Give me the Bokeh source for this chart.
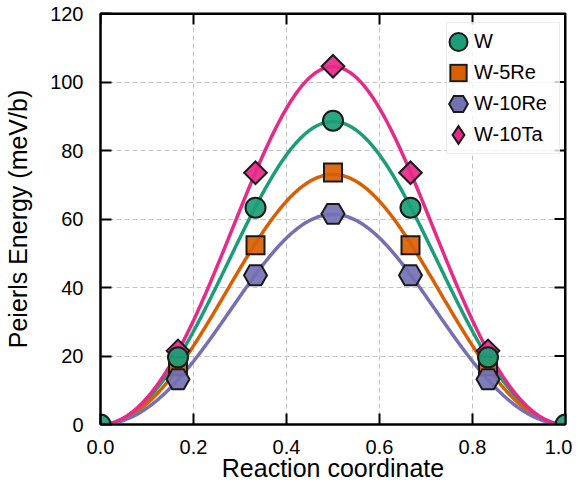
import numpy as np
from bokeh.plotting import figure
from bokeh.models import (Range1d, FixedTicker, PrintfTickFormatter, Legend, LegendItem)
from bokeh.embed import file_html
from bokeh.resources import INLINE

# ---- data ----
x_pts = [0.0, 1 / 6, 1 / 3, 0.5, 2 / 3, 5 / 6, 1.0]
e_w = [0.0, 19.6, 63.3, 88.7, 63.3, 19.6, 0.0]
e_w5re = [0.0, 17.0, 52.3, 73.6, 52.3, 17.0, 0.0]
e_w10re = [0.0, 13.2, 43.6, 61.5, 43.6, 13.2, 0.0]
e_w10ta = [0.0, 21.5, 73.5, 104.6, 73.5, 21.5, 0.0]
names = ["W", "W-5Re", "W-10Re", "W-10Ta"]
colors = ["#1b9e77", "#d95f02", "#7570b3", "#e7298a"]
x_ticks = [0.0, 0.2, 0.4, 0.6, 0.8, 1.0]
y_ticks = [0, 20, 40, 60, 80, 100, 120]
x_title = "Reaction coordinate"
y_title = "Peierls Energy (meV/b)"

FONT = "Liberation Sans"
W, H = 572, 488
BL, BR, BT, BB = 100, 7, 13, 64
FW, FH = W - BL - BR, H - BT - BB
X0, X1, Y0, Y1 = 0.0, 1.0, 0.0, 120.0

p = figure(width=W, height=H, x_range=Range1d(X0, X1), y_range=Range1d(Y0, Y1),
           output_backend="svg", toolbar_location=None,
           min_border_left=BL, min_border_right=BR, min_border_top=BT, min_border_bottom=BB,
           x_axis_label=x_title, y_axis_label=y_title)
p.outline_line_color = "black"
p.outline_line_width = 2
p.background_fill_color = "white"

for ax, ticks in ((p.xaxis[0], x_ticks), (p.yaxis[0], y_ticks)):
    ax.ticker = FixedTicker(ticks=ticks)
    ax.axis_line_width = 2
    ax.axis_line_color = "black"
    ax.major_tick_line_width = 2
    ax.major_tick_line_color = "black"
    ax.major_tick_in = 11
    ax.major_tick_out = 0
    ax.minor_tick_line_color = None
    ax.major_label_text_font = FONT
    ax.major_label_text_font_size = "20px"
    ax.major_label_text_color = "black"
    ax.axis_label_text_font = FONT
    ax.axis_label_text_font_size = "25px"
    ax.axis_label_text_font_style = "normal"
    ax.axis_label_text_color = "black"
p.xaxis[0].formatter = PrintfTickFormatter(format="%.1f")
p.xaxis[0].major_label_standoff = 15
p.xaxis[0].axis_label_standoff = -3
p.yaxis[0].major_label_standoff = 17
p.yaxis[0].axis_label_standoff = 15

# grid
p.xgrid.ticker = FixedTicker(ticks=x_ticks)
p.ygrid.ticker = FixedTicker(ticks=y_ticks)
for g in (p.xgrid[0], p.ygrid[0]):
    g.grid_line_color = "#c4c4c4"
    g.grid_line_dash = "5 3"
    g.grid_line_width = 1

# top / right frame edges with inward mirrored ticks
tick_len = 11
dx = tick_len * (X1 - X0) / FW
dy = tick_len * (Y1 - Y0) / FH
p.segment(x0=[X0, X1], y0=[Y1, Y0], x1=[X1, X1], y1=[Y1, Y1], line_color="black",
          line_width=3)
p.segment(x0=x_ticks, y0=[Y1] * len(x_ticks), x1=x_ticks, y1=[Y1 - dy] * len(x_ticks),
          line_color="black", line_width=2)
p.segment(x0=[X1] * len(y_ticks), y0=y_ticks, x1=[X1 - dx] * len(y_ticks), y1=y_ticks,
          line_color="black", line_width=2)

# smooth fitted curves
xs = np.array(x_pts)
basis = np.column_stack([np.sin(np.pi * xs) ** 2, np.sin(2 * np.pi * xs) ** 2])
xf = np.linspace(0, 1, 400)
basis_f = np.column_stack([np.sin(np.pi * xf) ** 2, np.sin(2 * np.pi * xf) ** 2])
series = [e_w, e_w5re, e_w10re, e_w10ta]
for ys, c in zip(series, colors):
    coef, *_ = np.linalg.lstsq(basis, np.array(ys), rcond=None)
    p.line(xf, basis_f @ coef, line_color=c, line_width=3.5)

common = dict(line_color="#1a1a1a", line_width=2, fill_alpha=0.92, line_join="miter")
p.scatter(x_pts[1:-1], e_w10ta[1:-1], marker="square", angle=np.pi / 4, size=16,
          fill_color=colors[3], **common)
p.scatter(x_pts[1:-1], e_w5re[1:-1], marker="square", size=18,
          fill_color=colors[1], **common)
p.scatter(x_pts[1:-1], e_w10re[1:-1], marker="hex", size=23,
          fill_color=colors[2], **common)
p.scatter(x_pts, e_w, marker="circle", size=20, fill_color=colors[0], **common)

# legend glyphs: hidden renderers layered (black outline + coloured body)
markers = ["circle", "square", "hex", "diamond"]
outer_w = [11.2, 9.5, 10.6, 7.0]
inner_w = [7.2, 5.5, 6.6, 3.0]
items = []
for name, mk, col, ys, wo, wi in zip(names, markers, colors, series, outer_w, inner_w):
    ra = p.scatter(x_pts[1:-1], ys[1:-1], marker=mk, size=10, fill_color="#1a1a1a",
                   line_color="#1a1a1a", line_width=wo, line_join="miter", visible=False)
    rb = p.scatter(x_pts[1:-1], ys[1:-1], marker=mk, size=10, fill_color=col,
                   line_color=col, line_width=wi, line_join="miter", visible=False)
    items.append(LegendItem(label=name, renderers=[ra, rb]))

legend = Legend(items=items, location=(346, 270), glyph_width=22, glyph_height=31,
                spacing=0, padding=(0, 12, 3, 3), label_standoff=5, label_text_font=FONT,
                label_text_font_size="20px", label_text_color="black",
                border_line_color="#d9d9d9", border_line_width=1,
                background_fill_color="white", background_fill_alpha=0.8)
p.add_layout(legend)

open("out.html", "w").write(file_html(p, INLINE))
